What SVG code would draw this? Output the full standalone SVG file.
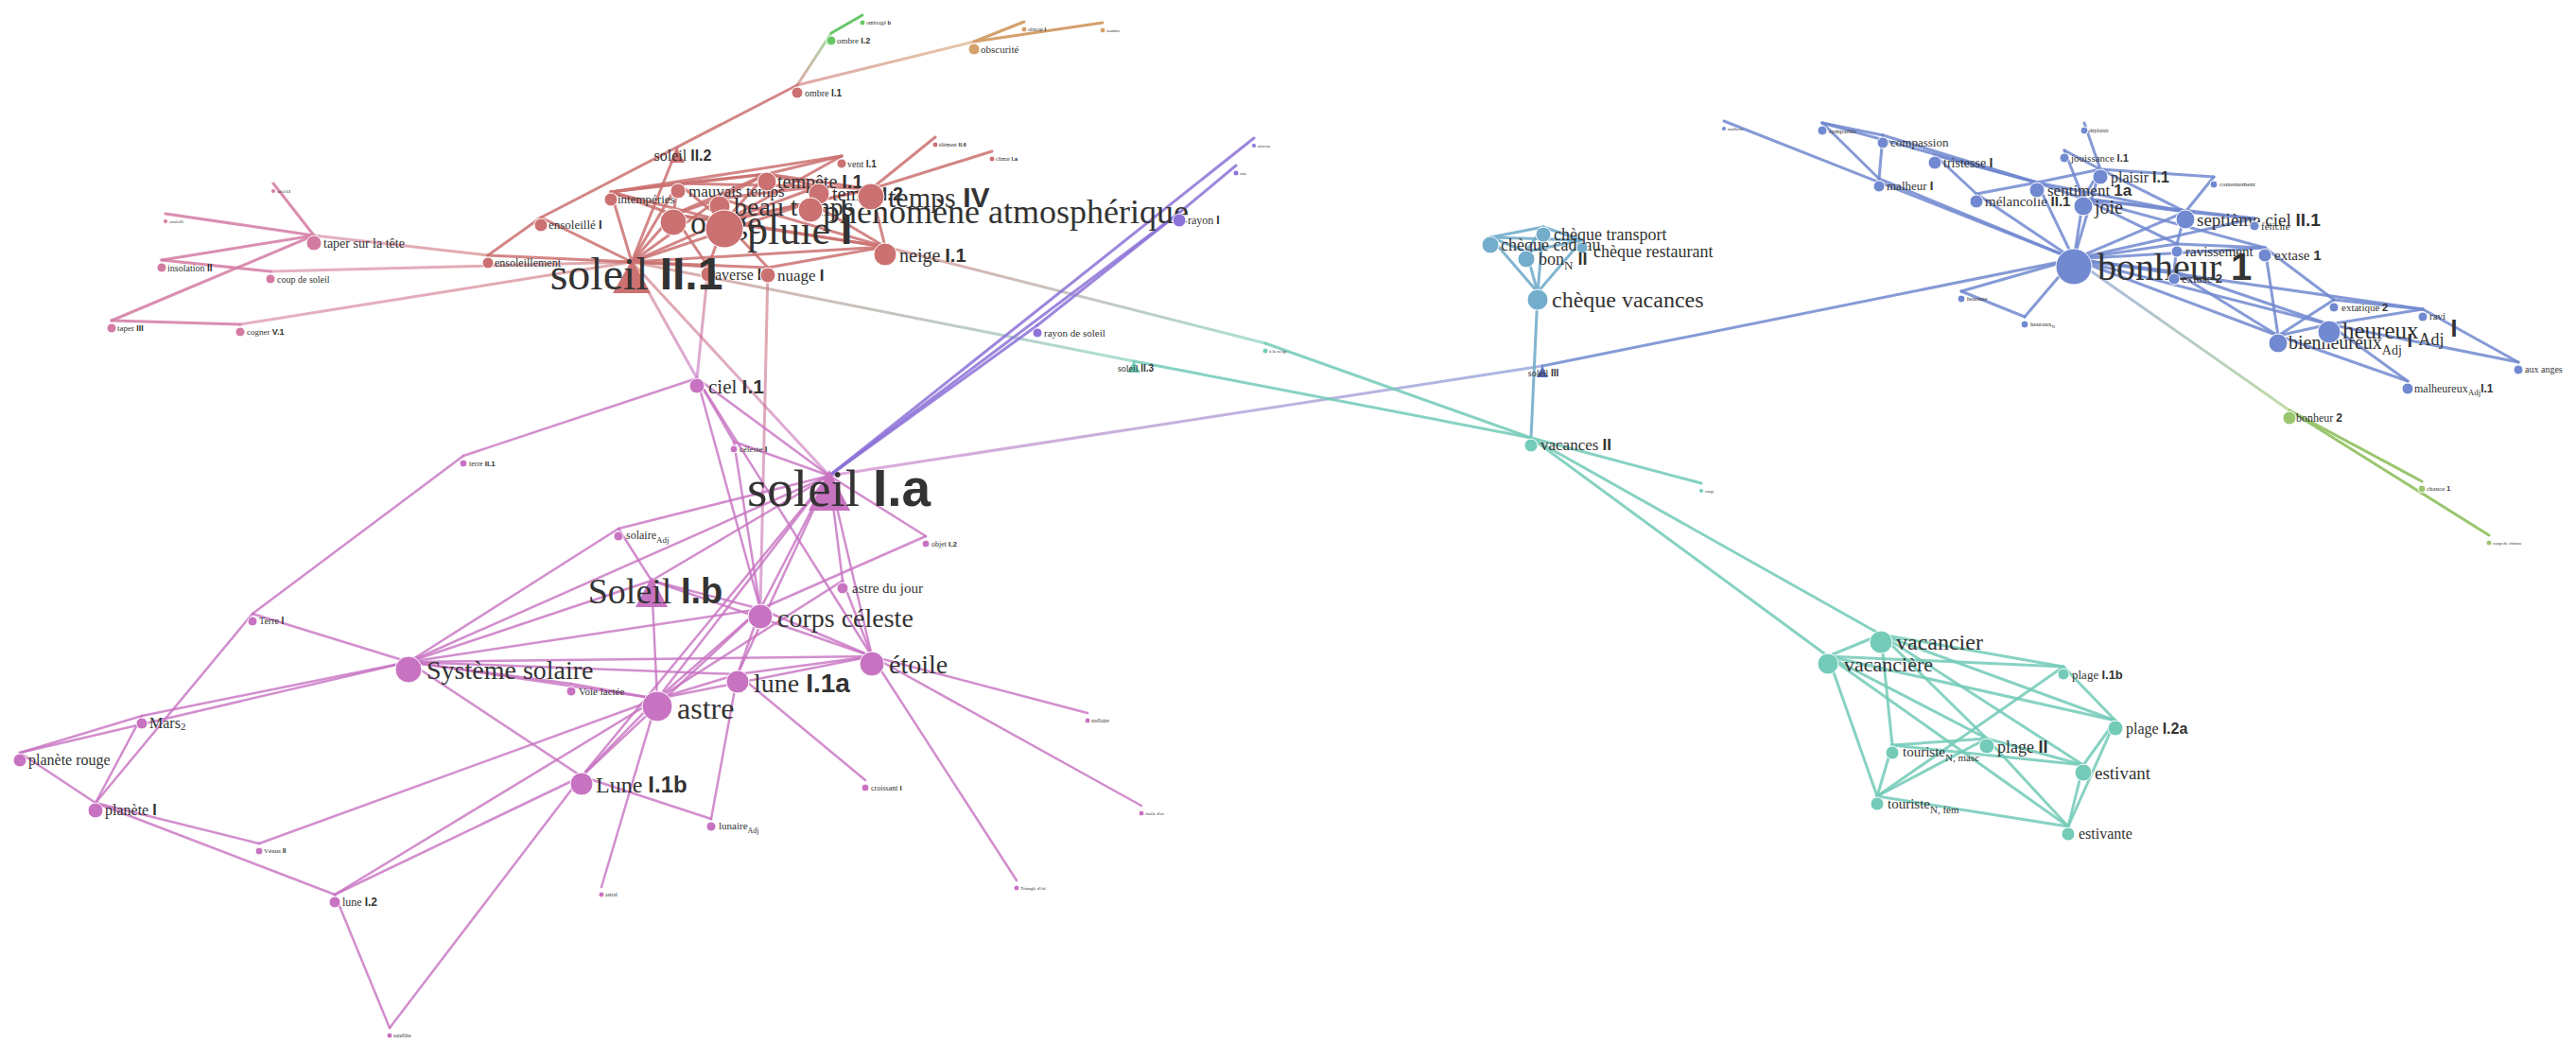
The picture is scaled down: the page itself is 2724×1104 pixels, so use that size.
<svg xmlns="http://www.w3.org/2000/svg" width="2724" height="1104" viewBox="0 0 2724 1104">
<style>
.t{font-family:"Liberation Serif","Times New Roman",serif;fill:#333}
.b{font-family:"Liberation Sans",Arial,sans-serif;font-weight:bold}
.m{text-anchor:middle}
line{stroke-linecap:round}
.er line{stroke:#cc7171;stroke-width:3;opacity:.85}
.ep line{stroke:#d47ba3;stroke-width:3;opacity:.85}
.eg line{stroke:#67c767;stroke-width:3}
.en line{stroke:#d4a06c;stroke-width:3}
.eu line{stroke:#8d72d8;stroke-width:3;opacity:.85}
.em line{stroke:#c872c2;stroke-width:2.5;opacity:.8}
.ec line{stroke:#74adcc;stroke-width:3;opacity:.9}
.et line{stroke:#73cbb8;stroke-width:3;opacity:.85}
.eb line{stroke:#7189d0;stroke-width:3;opacity:.85}
.ee line{stroke:#9ac66e;stroke-width:3}
.gr line{stroke-width:3;opacity:.6}
.nr{fill:#cc7171}.np{fill:#d47ba3}.ng{fill:#67c767}.nn{fill:#d4a06c}.nu{fill:#8d72d8}.nm{fill:#c872c2}.nc{fill:#74adcc}.nt{fill:#73cbb8}.nb{fill:#7189d0}.ne{fill:#9ac66e}.nd{fill:#5a6fc0}
circle{stroke:#fff;stroke-width:1}
</style>
<defs>
<linearGradient id="gA" gradientUnits="userSpaceOnUse" x1="332" y1="257" x2="516" y2="278"><stop offset="0" stop-color="#d47ba3"/><stop offset="1" stop-color="#cc7171"/></linearGradient>
<linearGradient id="gB" gradientUnits="userSpaceOnUse" x1="286" y1="295" x2="668" y2="285"><stop offset="0" stop-color="#d47ba3"/><stop offset="1" stop-color="#cc7171"/></linearGradient>
<linearGradient id="gC" gradientUnits="userSpaceOnUse" x1="254" y1="351" x2="668" y2="285"><stop offset="0" stop-color="#d47ba3"/><stop offset="1" stop-color="#cc7171"/></linearGradient>
<linearGradient id="gD" gradientUnits="userSpaceOnUse" x1="843" y1="98" x2="879" y2="43"><stop offset="0" stop-color="#cc7171"/><stop offset="1" stop-color="#67c767"/></linearGradient>
<linearGradient id="gE" gradientUnits="userSpaceOnUse" x1="843" y1="98" x2="1030" y2="52"><stop offset="0" stop-color="#cc7171"/><stop offset="1" stop-color="#d4a06c"/></linearGradient>
<linearGradient id="gF" gradientUnits="userSpaceOnUse" x1="668" y1="285" x2="737" y2="408"><stop offset="0" stop-color="#cc7171"/><stop offset="1" stop-color="#c872c2"/></linearGradient>
<linearGradient id="gG" gradientUnits="userSpaceOnUse" x1="749" y1="290" x2="737" y2="408"><stop offset="0" stop-color="#cc7171"/><stop offset="1" stop-color="#c872c2"/></linearGradient>
<linearGradient id="gH" gradientUnits="userSpaceOnUse" x1="668" y1="285" x2="877" y2="511"><stop offset="0" stop-color="#cc7171"/><stop offset="1" stop-color="#c872c2"/></linearGradient>
<linearGradient id="gI" gradientUnits="userSpaceOnUse" x1="812" y1="291" x2="804" y2="652"><stop offset="0" stop-color="#cc7171"/><stop offset="1" stop-color="#c872c2"/></linearGradient>
<linearGradient id="gJ" gradientUnits="userSpaceOnUse" x1="668" y1="285" x2="1199" y2="390"><stop offset="0" stop-color="#cc7171"/><stop offset="1" stop-color="#73cbb8"/></linearGradient>
<linearGradient id="gK" gradientUnits="userSpaceOnUse" x1="936" y1="269" x2="1338" y2="371"><stop offset="0" stop-color="#cc7171"/><stop offset="1" stop-color="#73cbb8"/></linearGradient>
<linearGradient id="gL" gradientUnits="userSpaceOnUse" x1="877" y1="511" x2="1631" y2="395"><stop offset="0" stop-color="#c872c2"/><stop offset="1" stop-color="#7189d0"/></linearGradient>
<linearGradient id="gM" gradientUnits="userSpaceOnUse" x1="2193" y1="282" x2="2421" y2="442"><stop offset="0" stop-color="#7189d0"/><stop offset="1" stop-color="#9ac66e"/></linearGradient>
</defs>
<rect width="2724" height="1104" fill="#fff"/>
<g id="connectors" transform="translate(0,-8)">
<g class="gr">
<line x1="332" y1="257" x2="516" y2="278" stroke="url(#gA)"/>
<line x1="286" y1="295" x2="668" y2="285" stroke="url(#gB)"/>
<line x1="254" y1="351" x2="668" y2="285" stroke="url(#gC)"/>
<line x1="843" y1="98" x2="879" y2="43" stroke="url(#gD)"/>
<line x1="843" y1="98" x2="1030" y2="52" stroke="url(#gE)"/>
<line x1="668" y1="285" x2="737" y2="408" stroke="url(#gF)"/>
<line x1="749" y1="290" x2="737" y2="408" stroke="url(#gG)"/>
<line x1="668" y1="285" x2="877" y2="511" stroke="url(#gH)"/>
<line x1="812" y1="291" x2="804" y2="652" stroke="url(#gI)"/>
<line x1="668" y1="285" x2="1199" y2="390" stroke="url(#gJ)"/>
<line x1="936" y1="269" x2="1338" y2="371" stroke="url(#gK)"/>
<line x1="877" y1="511" x2="1631" y2="395" stroke="url(#gL)"/>
<line x1="2193" y1="282" x2="2421" y2="442" stroke="url(#gM)"/>
</g>
<g class="er">
<line x1="668" y1="285" x2="516" y2="278"/><line x1="668" y1="285" x2="572" y2="238"/><line x1="668" y1="285" x2="646" y2="211"/><line x1="668" y1="285" x2="712" y2="235"/><line x1="668" y1="285" x2="766" y2="242"/><line x1="668" y1="285" x2="761" y2="218"/><line x1="668" y1="285" x2="857" y2="222"/><line x1="668" y1="285" x2="936" y2="269"/><line x1="668" y1="285" x2="749" y2="290"/><line x1="668" y1="285" x2="812" y2="291"/><line x1="668" y1="285" x2="716" y2="165"/><line x1="668" y1="285" x2="717" y2="202"/>
<line x1="516" y1="278" x2="572" y2="238"/><line x1="572" y1="238" x2="843" y2="98"/>
<line x1="646" y1="211" x2="717" y2="202"/><line x1="646" y1="211" x2="811" y2="192"/><line x1="646" y1="211" x2="712" y2="235"/><line x1="646" y1="211" x2="766" y2="242"/>
<line x1="717" y1="202" x2="811" y2="192"/><line x1="717" y1="202" x2="766" y2="242"/><line x1="717" y1="202" x2="712" y2="235"/><line x1="717" y1="202" x2="866" y2="205"/>
<line x1="811" y1="192" x2="890" y2="173"/><line x1="811" y1="192" x2="712" y2="235"/><line x1="811" y1="192" x2="766" y2="242"/><line x1="811" y1="192" x2="866" y2="205"/><line x1="811" y1="192" x2="921" y2="208"/>
<line x1="890" y1="173" x2="646" y2="211"/><line x1="890" y1="173" x2="766" y2="242"/>
<line x1="712" y1="235" x2="766" y2="242"/><line x1="712" y1="235" x2="749" y2="290"/><line x1="712" y1="235" x2="936" y2="269"/><line x1="712" y1="235" x2="761" y2="218"/>
<line x1="766" y1="242" x2="749" y2="290"/><line x1="766" y1="242" x2="812" y2="291"/><line x1="766" y1="242" x2="936" y2="269"/><line x1="766" y1="242" x2="857" y2="222"/><line x1="766" y1="242" x2="921" y2="208"/><line x1="766" y1="242" x2="866" y2="205"/>
<line x1="921" y1="208" x2="989" y2="153"/><line x1="921" y1="208" x2="1049" y2="168"/><line x1="921" y1="208" x2="936" y2="269"/><line x1="921" y1="208" x2="857" y2="222"/><line x1="921" y1="208" x2="866" y2="205"/>
<line x1="936" y1="269" x2="857" y2="222"/><line x1="936" y1="269" x2="812" y2="291"/><line x1="936" y1="269" x2="761" y2="218"/>
<line x1="761" y1="218" x2="866" y2="205"/><line x1="761" y1="218" x2="811" y2="192"/>
</g>
<g class="ep">
<line x1="332" y1="257" x2="289" y2="202"/><line x1="332" y1="257" x2="175" y2="234"/><line x1="332" y1="257" x2="171" y2="283"/><line x1="332" y1="257" x2="118" y2="347"/><line x1="171" y1="283" x2="286" y2="295"/><line x1="118" y1="347" x2="254" y2="351"/>
</g>
<g class="eg"><line x1="879" y1="43" x2="912" y2="24"/></g>
<g class="en"><line x1="1030" y1="52" x2="1083" y2="31"/><line x1="1030" y1="52" x2="1166" y2="32"/></g>
<g class="eu">
<line x1="877" y1="511" x2="1097" y2="352"/><line x1="1097" y1="352" x2="1247" y2="233"/><line x1="1247" y1="233" x2="1307" y2="183"/><line x1="877" y1="511" x2="1326" y2="154"/><line x1="877" y1="511" x2="1247" y2="233"/>
</g>
<g class="em">
<line x1="490" y1="490" x2="267" y2="657"/><line x1="490" y1="490" x2="737" y2="408"/>
<line x1="267" y1="657" x2="432" y2="708"/><line x1="267" y1="657" x2="101" y2="857"/>
<line x1="150" y1="765" x2="21" y2="804"/><line x1="150" y1="765" x2="432" y2="708"/><line x1="150" y1="765" x2="101" y2="857"/>
<line x1="21" y1="804" x2="432" y2="708"/><line x1="21" y1="804" x2="101" y2="857"/>
<line x1="432" y1="708" x2="654" y2="567"/><line x1="432" y1="708" x2="689" y2="622"/><line x1="432" y1="708" x2="604" y2="731"/><line x1="432" y1="708" x2="615" y2="829"/><line x1="432" y1="708" x2="780" y2="721"/><line x1="432" y1="708" x2="922" y2="702"/><line x1="432" y1="708" x2="695" y2="747"/><line x1="432" y1="708" x2="877" y2="511"/><line x1="432" y1="708" x2="804" y2="652"/>
<line x1="654" y1="567" x2="877" y2="511"/><line x1="654" y1="567" x2="689" y2="622"/>
<line x1="604" y1="731" x2="695" y2="747"/>
<line x1="101" y1="857" x2="274" y2="900"/><line x1="101" y1="857" x2="354" y2="954"/>
<line x1="274" y1="900" x2="695" y2="747"/>
<line x1="354" y1="954" x2="695" y2="747"/><line x1="354" y1="954" x2="615" y2="829"/><line x1="354" y1="954" x2="412" y2="1095"/>
<line x1="412" y1="1095" x2="615" y2="829"/>
<line x1="615" y1="829" x2="752" y2="874"/><line x1="615" y1="829" x2="695" y2="747"/><line x1="615" y1="829" x2="804" y2="652"/><line x1="615" y1="829" x2="877" y2="511"/>
<line x1="752" y1="874" x2="780" y2="721"/><line x1="636" y1="946" x2="695" y2="747"/><line x1="915" y1="833" x2="780" y2="721"/>
<line x1="1075" y1="939" x2="922" y2="702"/><line x1="1207" y1="860" x2="922" y2="702"/><line x1="1150" y1="762" x2="922" y2="702"/>
<line x1="737" y1="408" x2="877" y2="511"/><line x1="737" y1="408" x2="776" y2="475"/><line x1="737" y1="408" x2="804" y2="652"/><line x1="737" y1="408" x2="922" y2="702"/>
<line x1="776" y1="475" x2="804" y2="652"/><line x1="776" y1="475" x2="877" y2="511"/>
<line x1="877" y1="511" x2="979" y2="575"/><line x1="979" y1="575" x2="804" y2="652"/>
<line x1="877" y1="511" x2="891" y2="622"/><line x1="877" y1="511" x2="804" y2="652"/><line x1="877" y1="511" x2="922" y2="702"/><line x1="877" y1="511" x2="695" y2="747"/><line x1="877" y1="511" x2="780" y2="721"/><line x1="877" y1="511" x2="689" y2="622"/>
<line x1="891" y1="622" x2="922" y2="702"/><line x1="891" y1="622" x2="695" y2="747"/>
<line x1="804" y1="652" x2="922" y2="702"/><line x1="804" y1="652" x2="695" y2="747"/><line x1="804" y1="652" x2="780" y2="721"/><line x1="804" y1="652" x2="689" y2="622"/>
<line x1="922" y1="702" x2="780" y2="721"/><line x1="922" y1="702" x2="695" y2="747"/><line x1="922" y1="702" x2="689" y2="622"/>
<line x1="689" y1="622" x2="695" y2="747"/><line x1="780" y1="721" x2="695" y2="747"/>
</g>
<g class="ec">
<line x1="1576" y1="259" x2="1632" y2="248"/><line x1="1576" y1="259" x2="1614" y2="274"/><line x1="1576" y1="259" x2="1673" y2="262"/><line x1="1576" y1="259" x2="1626" y2="317"/><line x1="1632" y1="248" x2="1673" y2="262"/><line x1="1632" y1="248" x2="1626" y2="317"/><line x1="1632" y1="248" x2="1614" y2="274"/><line x1="1614" y1="274" x2="1626" y2="317"/><line x1="1673" y1="262" x2="1626" y2="317"/><line x1="1614" y1="274" x2="1673" y2="262"/><line x1="1626" y1="317" x2="1619" y2="471"/>
</g>
<g class="et">
<line x1="1199" y1="390" x2="1619" y2="471"/><line x1="1338" y1="371" x2="1619" y2="471"/><line x1="1619" y1="471" x2="1799" y2="519"/><line x1="1619" y1="471" x2="1989" y2="679"/><line x1="1619" y1="471" x2="1933" y2="702"/>
<line x1="1989" y1="679" x2="1933" y2="702"/><line x1="1989" y1="679" x2="2182" y2="713"/><line x1="1989" y1="679" x2="2237" y2="770"/><line x1="1989" y1="679" x2="2001" y2="796"/><line x1="1989" y1="679" x2="2203" y2="817"/><line x1="1989" y1="679" x2="2101" y2="789"/>
<line x1="1933" y1="702" x2="2182" y2="713"/><line x1="1933" y1="702" x2="2237" y2="770"/><line x1="1933" y1="702" x2="1985" y2="850"/><line x1="1933" y1="702" x2="2101" y2="789"/><line x1="1933" y1="702" x2="2187" y2="882"/>
<line x1="2182" y1="713" x2="2237" y2="770"/><line x1="2182" y1="713" x2="1985" y2="850"/><line x1="2237" y1="770" x2="2203" y2="817"/><line x1="2237" y1="770" x2="2187" y2="882"/>
<line x1="2101" y1="789" x2="2001" y2="796"/><line x1="2101" y1="789" x2="2203" y2="817"/><line x1="2101" y1="789" x2="2187" y2="882"/><line x1="2001" y1="796" x2="1985" y2="850"/><line x1="2001" y1="796" x2="2203" y2="817"/><line x1="1985" y1="850" x2="2187" y2="882"/><line x1="2203" y1="817" x2="2187" y2="882"/><line x1="1985" y1="850" x2="2101" y2="789"/>
</g>
<g class="eb">
<line x1="1631" y1="395" x2="2193" y2="282"/>
<line x1="2193" y1="282" x2="2203" y2="218"/><line x1="2193" y1="282" x2="2154" y2="201"/><line x1="2193" y1="282" x2="2090" y2="213"/><line x1="2193" y1="282" x2="1987" y2="197"/><line x1="2193" y1="282" x2="1823" y2="136"/><line x1="2193" y1="282" x2="2141" y2="343"/><line x1="2193" y1="282" x2="2074" y2="316"/><line x1="2193" y1="282" x2="2311" y2="232"/><line x1="2193" y1="282" x2="2302" y2="266"/><line x1="2193" y1="282" x2="2299" y2="295"/><line x1="2193" y1="282" x2="2409" y2="363"/><line x1="2193" y1="282" x2="2463" y2="351"/><line x1="2193" y1="282" x2="2221" y2="187"/><line x1="2193" y1="282" x2="2384" y2="239"/><line x1="2193" y1="282" x2="2395" y2="270"/><line x1="2193" y1="282" x2="2562" y2="335"/>
<line x1="2074" y1="316" x2="2141" y2="343"/>
<line x1="1927" y1="138" x2="1991" y2="151"/><line x1="1927" y1="138" x2="1987" y2="197"/><line x1="1927" y1="138" x2="2154" y2="201"/>
<line x1="1991" y1="151" x2="1987" y2="197"/><line x1="1991" y1="151" x2="2154" y2="201"/>
<line x1="2046" y1="172" x2="2090" y2="213"/><line x1="2046" y1="172" x2="2154" y2="201"/>
<line x1="2090" y1="213" x2="2154" y2="201"/>
<line x1="2154" y1="201" x2="2221" y2="187"/><line x1="2154" y1="201" x2="2203" y2="218"/><line x1="2154" y1="201" x2="2311" y2="232"/>
<line x1="2183" y1="167" x2="2221" y2="187"/><line x1="2183" y1="167" x2="2203" y2="218"/><line x1="2204" y1="138" x2="2221" y2="187"/>
<line x1="2221" y1="187" x2="2341" y2="195"/><line x1="2221" y1="187" x2="2311" y2="232"/><line x1="2221" y1="187" x2="2203" y2="218"/>
<line x1="2203" y1="218" x2="2311" y2="232"/><line x1="2203" y1="218" x2="2384" y2="239"/><line x1="2203" y1="218" x2="2395" y2="270"/><line x1="2203" y1="218" x2="2302" y2="266"/>
<line x1="2341" y1="195" x2="2311" y2="232"/><line x1="2311" y1="232" x2="2384" y2="239"/><line x1="2311" y1="232" x2="2302" y2="266"/>
<line x1="2302" y1="266" x2="2395" y2="270"/><line x1="2302" y1="266" x2="2299" y2="295"/>
<line x1="2395" y1="270" x2="2468" y2="325"/><line x1="2395" y1="270" x2="2409" y2="363"/>
<line x1="2299" y1="295" x2="2409" y2="363"/><line x1="2299" y1="295" x2="2463" y2="351"/>
<line x1="2468" y1="325" x2="2409" y2="363"/><line x1="2468" y1="325" x2="2562" y2="335"/>
<line x1="2562" y1="335" x2="2463" y2="351"/><line x1="2562" y1="335" x2="2663" y2="391"/>
<line x1="2463" y1="351" x2="2663" y2="391"/><line x1="2463" y1="351" x2="2409" y2="363"/><line x1="2463" y1="351" x2="2546" y2="411"/><line x1="2409" y1="363" x2="2546" y2="411"/>
</g>
<g class="ee"><line x1="2421" y1="442" x2="2561" y2="517"/><line x1="2421" y1="442" x2="2632" y2="574"/></g>
</g>
<g id="nodes">
<g id="n-ensoleillement"><circle cx="516" cy="278" r="6" class="nr"/><text class="t" x="523" y="282" font-size="12">ensoleillement</text></g>
<g id="n-ensoleille"><circle cx="572" cy="238" r="7" class="nr"/><text class="t" x="580" y="242" font-size="13">ensoleillé <tspan class="b">I</tspan></text></g>
<g id="n-intemperies"><circle cx="646" cy="211" r="7" class="nr"/><text class="t" x="653" y="215" font-size="13">intempéries</text></g>
<g id="n-mauvais-temps"><circle cx="717" cy="202" r="8" class="nr"/><text class="t" x="728" y="208" font-size="17">mauvais temps</text></g>
<g id="n-tempete"><circle cx="811" cy="192" r="10" class="nr"/><text class="t" x="822" y="199" font-size="20">tempête <tspan class="b">I.1</tspan></text></g>
<g id="n-vent"><circle cx="890" cy="173" r="5" class="nr"/><text class="t" x="896" y="177" font-size="10">vent <tspan class="b">I.1</tspan></text></g>
<g id="n-element"><circle cx="989" cy="153" r="3" class="nr"/><text class="t" x="993" y="155" font-size="6">élément <tspan class="b">II.6</tspan></text></g>
<g id="n-climat"><circle cx="1049" cy="168" r="3" class="nr"/><text class="t" x="1053" y="170" font-size="6">climat <tspan class="b">I.a</tspan></text></g>
<g id="n-soleil-II2"><polygon points="716,157 708,172 724,172" class="nr"/><text class="t m" x="722" y="170" font-size="16">soleil <tspan class="b">II.2</tspan></text></g>
<g id="n-orage"><circle cx="712" cy="235" r="14" class="nr"/><text class="t" x="730" y="247" font-size="34">orage</text></g>
<g id="n-beau-temps"><circle cx="761" cy="218" r="11" class="nr"/><text class="t" x="776" y="228" font-size="28">beau temps</text></g>
<g id="n-temps-I2"><circle cx="866" cy="205" r="11" class="nr"/><text class="t" x="880" y="212" font-size="20">temps <tspan class="b">I.2</tspan></text></g>
<g id="n-pluie"><circle cx="766" cy="242" r="20" class="nr"/><text class="t" x="790" y="258" font-size="44">pluie <tspan class="b">I</tspan></text></g>
<g id="n-phenomene"><circle cx="857" cy="222" r="13" class="nr"/><text class="t" x="870" y="236" font-size="36">phénomène atmosphérique</text></g>
<g id="n-temps-IV"><circle cx="921" cy="208" r="14" class="nr"/><text class="t" x="939" y="219" font-size="30">temps <tspan class="b">IV</tspan></text></g>
<g id="n-neige"><circle cx="936" cy="269" r="12" class="nr"/><text class="t" x="951" y="277" font-size="20">neige <tspan class="b">I.1</tspan></text></g>
<g id="n-averse"><circle cx="749" cy="290" r="8" class="nr"/><text class="t" x="756" y="296" font-size="16">averse <tspan class="b">I</tspan></text></g>
<g id="n-nuage"><circle cx="812" cy="291" r="8" class="nr"/><text class="t" x="822" y="297" font-size="17">nuage <tspan class="b">I</tspan></text></g>
<g id="n-soleil-II1"><polygon points="668,275 648,310 688,310" class="nr"/><text class="t m" x="673" y="306" font-size="48">soleil <tspan class="b">II.1</tspan></text></g>
<g id="n-ombre-I1"><circle cx="843" cy="98" r="6" class="nr"/><text class="t" x="851" y="102" font-size="10">ombre <tspan class="b">I.1</tspan></text></g>
<g id="n-ombre-I2"><circle cx="879" cy="43" r="5" class="ng"/><text class="t" x="885" y="46" font-size="9">ombre <tspan class="b">I.2</tspan></text></g>
<g id="n-ombrage"><circle cx="912" cy="24" r="3" class="ng"/><text class="t" x="916" y="26" font-size="6">ombragé <tspan class="b">b</tspan></text></g>
<g id="n-obscurite"><circle cx="1030" cy="52" r="6" class="nn"/><text class="t" x="1037" y="56" font-size="11">obscurité</text></g>
<g id="n-obscur"><circle cx="1083" cy="31" r="3" class="nn"/><text class="t" x="1087" y="33" font-size="6">obscur <tspan class="b">I</tspan></text></g>
<g id="n-sombre"><circle cx="1166" cy="32" r="3" class="nn"/><text class="t" x="1170" y="34" font-size="5">sombre</text></g>
<g id="n-taper-tete"><circle cx="332" cy="257" r="8" class="np"/><text class="t" x="342" y="262" font-size="14">taper sur la tête</text></g>
<g id="n-insolation"><circle cx="171" cy="283" r="5" class="np"/><text class="t" x="177" y="287" font-size="10">insolation <tspan class="b">II</tspan></text></g>
<g id="n-coup-soleil"><circle cx="286" cy="295" r="5" class="np"/><text class="t" x="293" y="299" font-size="10">coup de soleil</text></g>
<g id="n-taper-III"><circle cx="118" cy="347" r="5" class="np"/><text class="t" x="124" y="350" font-size="9">taper <tspan class="b">III</tspan></text></g>
<g id="n-cogner"><circle cx="254" cy="351" r="5" class="np"/><text class="t" x="261" y="354" font-size="9">cogner <tspan class="b">V.1</tspan></text></g>
<g id="n-pink-a"><circle cx="175" cy="234" r="2.5" class="np"/><text class="t" x="179" y="236" font-size="4">ensoleillé</text></g>
<g id="n-pink-b"><circle cx="289" cy="202" r="2.5" class="np"/><text class="t" x="293" y="204" font-size="4">soleil <tspan class="b">I.1</tspan></text></g>
<g id="n-rayon"><circle cx="1247" cy="233" r="7" class="nu"/><text class="t" x="1256" y="237" font-size="12">rayon <tspan class="b">I</tspan></text></g>
<g id="n-rayon-soleil"><circle cx="1097" cy="352" r="5" class="nu"/><text class="t" x="1104" y="356" font-size="11">rayon de soleil</text></g>
<g id="n-purple-a"><circle cx="1326" cy="154" r="2.5" class="nu"/><text class="t" x="1330" y="156" font-size="4">faisceau</text></g>
<g id="n-purple-b"><circle cx="1307" cy="183" r="3" class="nu"/><text class="t" x="1311" y="185" font-size="5">raie</text></g>
<g id="n-terre-II1"><circle cx="490" cy="490" r="4" class="nm"/><text class="t" x="496" y="493" font-size="8">terre <tspan class="b">II.1</tspan></text></g>
<g id="n-Terre-I"><circle cx="267" cy="657" r="5" class="nm"/><text class="t" x="274" y="660" font-size="10">Terre <tspan class="b">I</tspan></text></g>
<g id="n-systeme"><circle cx="432" cy="708" r="14" class="nm"/><text class="t" x="451" y="718" font-size="28">Système solaire</text></g>
<g id="n-voie"><circle cx="604" cy="731" r="5" class="nm"/><text class="t" x="612" y="735" font-size="11">Voie lactée</text></g>
<g id="n-mars"><circle cx="150" cy="765" r="6" class="nm"/><text class="t" x="158" y="770" font-size="16">Mars<tspan font-size="11" dy="2">2</tspan></text></g>
<g id="n-planete-rouge"><circle cx="21" cy="804" r="7" class="nm"/><text class="t" x="30" y="809" font-size="16">planète rouge</text></g>
<g id="n-planete"><circle cx="101" cy="857" r="8" class="nm"/><text class="t" x="111" y="862" font-size="16">planète <tspan class="b">I</tspan></text></g>
<g id="n-venus"><circle cx="274" cy="900" r="4" class="nm"/><text class="t" x="279" y="902" font-size="7">Vénus <tspan class="b">II</tspan></text></g>
<g id="n-lune-I2"><circle cx="354" cy="954" r="6" class="nm"/><text class="t" x="362" y="958" font-size="12">lune <tspan class="b">I.2</tspan></text></g>
<g id="n-satellite"><circle cx="412" cy="1095" r="3" class="nm"/><text class="t" x="416" y="1097" font-size="6">satellite</text></g>
<g id="n-astral"><circle cx="636" cy="946" r="3" class="nm"/><text class="t" x="640" y="948" font-size="6">astral</text></g>
<g id="n-croissant"><circle cx="915" cy="833" r="4" class="nm"/><text class="t" x="921" y="836" font-size="8">croissant <tspan class="b">I</tspan></text></g>
<g id="n-stellaire"><circle cx="1150" cy="762" r="3" class="nm"/><text class="t" x="1154" y="764" font-size="6">stellaire</text></g>
<g id="n-tri-ete"><circle cx="1075" cy="939" r="3" class="nm"/><text class="t" x="1079" y="941" font-size="5">Triangle d'été</text></g>
<g id="n-etoile-tiny"><circle cx="1207" cy="860" r="3" class="nm"/><text class="t" x="1211" y="862" font-size="5">étoile d'or</text></g>
<g id="n-solaire"><circle cx="654" cy="567" r="5" class="nm"/><text class="t" x="662" y="570" font-size="12">solaire<tspan font-size="9" dy="4">Adj</tspan></text></g>
<g id="n-objet"><circle cx="979" cy="575" r="4" class="nm"/><text class="t" x="985" y="578" font-size="8">objet <tspan class="b">I.2</tspan></text></g>
<g id="n-celeste"><circle cx="776" cy="475" r="4" class="nm"/><text class="t" x="782" y="478" font-size="9">céleste <tspan class="b">I</tspan></text></g>
<g id="n-ciel"><circle cx="737" cy="408" r="8" class="nm"/><text class="t" x="749" y="416" font-size="21">ciel <tspan class="b">I.1</tspan></text></g>
<g id="n-lunaire"><circle cx="752" cy="874" r="5" class="nm"/><text class="t" x="760" y="877" font-size="11">lunaire<tspan font-size="8" dy="4">Adj</tspan></text></g>
<g id="n-Lune-I1b"><circle cx="615" cy="829" r="12" class="nm"/><text class="t" x="630" y="838" font-size="24">Lune <tspan class="b">I.1b</tspan></text></g>
<g id="n-astre-jour"><circle cx="891" cy="622" r="6" class="nm"/><text class="t" x="901" y="627" font-size="15">astre du jour</text></g>
<g id="n-corps"><circle cx="804" cy="652" r="13" class="nm"/><text class="t" x="822" y="663" font-size="28">corps céleste</text></g>
<g id="n-etoile"><circle cx="922" cy="702" r="13" class="nm"/><text class="t" x="940" y="712" font-size="28">étoile</text></g>
<g id="n-lune-I1a"><circle cx="780" cy="721" r="12" class="nm"/><text class="t" x="797" y="732" font-size="28">lune <tspan class="b">I.1a</tspan></text></g>
<g id="n-astre"><circle cx="695" cy="747" r="16" class="nm"/><text class="t" x="716" y="760" font-size="32">astre</text></g>
<g id="n-Soleil-Ib"><polygon points="689,610 672,642 706,642" class="nm"/><text class="t m" x="693" y="638" font-size="38">Soleil <tspan class="b">I.b</tspan></text></g>
<g id="n-soleil-Ia"><polygon points="877,497 855,540 899,540" class="nm"/><text class="t m" x="887" y="535" font-size="55">soleil <tspan class="b">I.a</tspan></text></g>
<g id="n-cheque-cadeau"><circle cx="1576" cy="259" r="9" class="nc"/><text class="t" x="1587" y="265" font-size="18">chèque cadeau</text></g>
<g id="n-cheque-restaurant"><circle cx="1673" cy="262" r="6" class="nc"/><text class="t" x="1685" y="272" font-size="18">chèque restaurant</text></g>
<g id="n-cheque-transport"><circle cx="1632" cy="248" r="8" class="nc"/><text class="t" x="1643" y="254" font-size="18">chèque transport</text></g>
<g id="n-bon"><circle cx="1614" cy="274" r="9" class="nc"/><text class="t" x="1627" y="280" font-size="18">bon<tspan font-size="13" dy="5">N</tspan><tspan class="b" dy="-5"> II</tspan></text></g>
<g id="n-cheque-vacances"><circle cx="1626" cy="317" r="11" class="nc"/><text class="t" x="1641" y="325" font-size="24">chèque vacances</text></g>
<g id="n-soleil-III"><polygon points="1631,387 1625,399 1637,399" class="nd"/><text class="t m" x="1632" y="398" font-size="10">soleil <tspan class="b">III</tspan></text></g>
<g id="n-soleil-II3"><polygon points="1199,382 1192,394 1206,394" class="nt"/><text class="t m" x="1201" y="393" font-size="10">soleil <tspan class="b">II.3</tspan></text></g>
<g id="n-la-neige"><circle cx="1338" cy="371" r="3" class="nt"/><text class="t" x="1342" y="373" font-size="5">à la neige</text></g>
<g id="n-vacances"><circle cx="1619" cy="471" r="7" class="nt"/><text class="t" x="1629" y="476" font-size="17">vacances <tspan class="b">II</tspan></text></g>
<g id="n-teal-tiny"><circle cx="1799" cy="519" r="2.5" class="nt"/><text class="t" x="1803" y="521" font-size="4">congé</text></g>
<g id="n-vacanciere"><circle cx="1933" cy="702" r="11" class="nt"/><text class="t" x="1950" y="710" font-size="22">vacancière</text></g>
<g id="n-vacancier"><circle cx="1989" cy="679" r="12" class="nt"/><text class="t" x="2005" y="687" font-size="24">vacancier</text></g>
<g id="n-plage-I1b"><circle cx="2182" cy="713" r="6" class="nt"/><text class="t" x="2191" y="718" font-size="13">plage <tspan class="b">I.1b</tspan></text></g>
<g id="n-plage-I2a"><circle cx="2237" cy="770" r="8" class="nt"/><text class="t" x="2248" y="776" font-size="16">plage <tspan class="b">I.2a</tspan></text></g>
<g id="n-touriste-m"><circle cx="2001" cy="796" r="7" class="nt"/><text class="t" x="2012" y="800" font-size="15">touriste<tspan font-size="11" dy="5">N, masc</tspan></text></g>
<g id="n-plage-II"><circle cx="2101" cy="789" r="8" class="nt"/><text class="t" x="2112" y="796" font-size="18">plage <tspan class="b">II</tspan></text></g>
<g id="n-estivant"><circle cx="2203" cy="817" r="9" class="nt"/><text class="t" x="2215" y="824" font-size="19">estivant</text></g>
<g id="n-touriste-f"><circle cx="1985" cy="850" r="7" class="nt"/><text class="t" x="1996" y="855" font-size="15">touriste<tspan font-size="11" dy="5">N, fém</tspan></text></g>
<g id="n-estivante"><circle cx="2187" cy="882" r="7" class="nt"/><text class="t" x="2198" y="887" font-size="16">estivante</text></g>
<g id="n-blue-tiny"><circle cx="1823" cy="136" r="2.5" class="nb"/><text class="t" x="1827" y="138" font-size="5">malheur</text></g>
<g id="n-sympathie"><circle cx="1927" cy="138" r="5" class="nb"/><text class="t" x="1934" y="141" font-size="7">sympathie</text></g>
<g id="n-compassion"><circle cx="1991" cy="151" r="6" class="nb"/><text class="t" x="1999" y="155" font-size="13">compassion</text></g>
<g id="n-tristesse"><circle cx="2046" cy="172" r="7" class="nb"/><text class="t" x="2055" y="177" font-size="14">tristesse <tspan class="b">I</tspan></text></g>
<g id="n-malheur"><circle cx="1987" cy="197" r="6" class="nb"/><text class="t" x="1995" y="201" font-size="13">malheur <tspan class="b">I</tspan></text></g>
<g id="n-melancolie"><circle cx="2090" cy="213" r="7" class="nb"/><text class="t" x="2099" y="218" font-size="15">mélancolie <tspan class="b">II.1</tspan></text></g>
<g id="n-sentiment"><circle cx="2154" cy="201" r="8" class="nb"/><text class="t" x="2165" y="207" font-size="17">sentiment <tspan class="b">1a</tspan></text></g>
<g id="n-deplaisir"><circle cx="2204" cy="138" r="4" class="nb"/><text class="t" x="2209" y="140" font-size="6">déplaisir</text></g>
<g id="n-jouissance"><circle cx="2183" cy="167" r="5" class="nb"/><text class="t" x="2190" y="171" font-size="11">jouissance <tspan class="b">I.1</tspan></text></g>
<g id="n-plaisir"><circle cx="2221" cy="187" r="8" class="nb"/><text class="t" x="2232" y="193" font-size="16">plaisir <tspan class="b">I.1</tspan></text></g>
<g id="n-joie"><circle cx="2203" cy="218" r="10" class="nb"/><text class="t" x="2215" y="226" font-size="20">joie</text></g>
<g id="n-heureuse"><circle cx="2074" cy="316" r="4" class="nb"/><text class="t" x="2080" y="318" font-size="6">heureuse</text></g>
<g id="n-heureux-N"><circle cx="2141" cy="343" r="4" class="nb"/><text class="t" x="2147" y="345" font-size="7">heureux<tspan font-size="5" dy="2">N</tspan></text></g>
<g id="n-contentement"><circle cx="2341" cy="195" r="4" class="nb"/><text class="t" x="2347" y="197" font-size="7">contentement</text></g>
<g id="n-septieme"><circle cx="2311" cy="232" r="10" class="nb"/><text class="t" x="2323" y="239" font-size="19">septième ciel <tspan class="b">II.1</tspan></text></g>
<g id="n-felicite"><circle cx="2384" cy="239" r="5" class="nb"/><text class="t" x="2391" y="243" font-size="11">félicité</text></g>
<g id="n-ravissement"><circle cx="2302" cy="266" r="6" class="nb"/><text class="t" x="2311" y="271" font-size="15">ravissement</text></g>
<g id="n-extase1"><circle cx="2395" cy="270" r="7" class="nb"/><text class="t" x="2405" y="275" font-size="15">extase <tspan class="b">1</tspan></text></g>
<g id="n-bonheur1"><circle cx="2193" cy="282" r="19" class="nb"/><text class="t" x="2218" y="296" font-size="40">bonheur <tspan class="b">1</tspan></text></g>
<g id="n-extase2"><circle cx="2299" cy="295" r="6" class="nb"/><text class="t" x="2307" y="299" font-size="13">extase <tspan class="b">2</tspan></text></g>
<g id="n-extatique"><circle cx="2468" cy="325" r="5" class="nb"/><text class="t" x="2476" y="329" font-size="11">extatique <tspan class="b">2</tspan></text></g>
<g id="n-ravi"><circle cx="2562" cy="335" r="5" class="nb"/><text class="t" x="2569" y="338" font-size="11">ravi</text></g>
<g id="n-bienheureux"><circle cx="2409" cy="363" r="10" class="nb"/><text class="t" x="2420" y="369" font-size="20">bienheureux<tspan font-size="14" dy="6">Adj</tspan><tspan class="b" dy="-8"> I</tspan></text></g>
<g id="n-heureux"><circle cx="2463" cy="351" r="12" class="nb"/><text class="t" x="2477" y="358" font-size="25">heureux<tspan font-size="18" dy="7">Adj</tspan><tspan class="b" dy="-9"> I</tspan></text></g>
<g id="n-aux-anges"><circle cx="2663" cy="391" r="5" class="nb"/><text class="t" x="2670" y="394" font-size="10">aux anges</text></g>
<g id="n-malheureux"><circle cx="2546" cy="411" r="6" class="nb"/><text class="t" x="2553" y="415" font-size="12">malheureux<tspan font-size="9" dy="3">Adj</tspan><tspan class="b" dy="-3">I.1</tspan></text></g>
<g id="n-bonheur2"><circle cx="2421" cy="442" r="7" class="ne"/><text class="t" x="2428" y="446" font-size="12">bonheur <tspan class="b">2</tspan></text></g>
<g id="n-chance"><circle cx="2561" cy="517" r="4" class="ne"/><text class="t" x="2566" y="519" font-size="7">chance <tspan class="b">1</tspan></text></g>
<g id="n-green-tiny"><circle cx="2632" cy="574" r="3" class="ne"/><text class="t" x="2636" y="576" font-size="5">coup de chance</text></g>
</g>
</svg>
